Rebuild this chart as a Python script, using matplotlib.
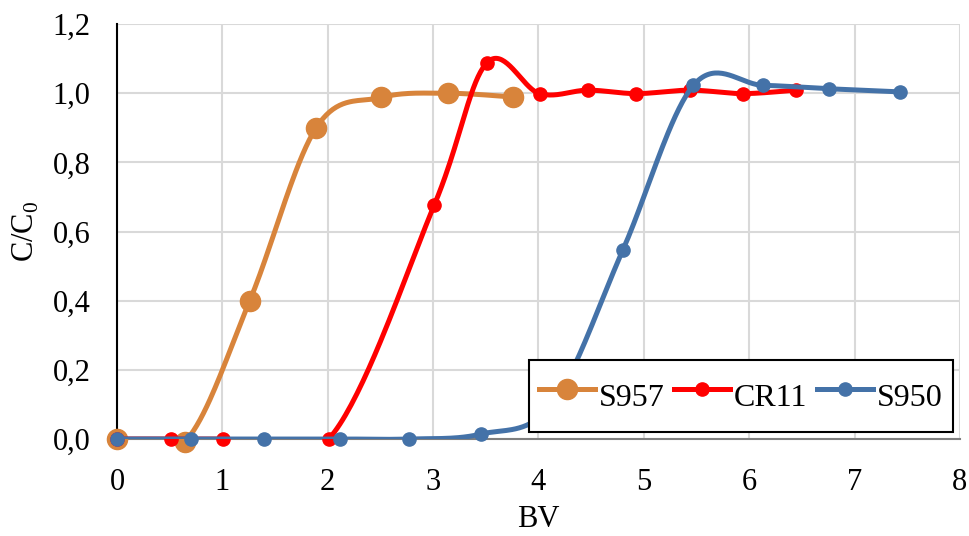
import numpy as np
import matplotlib
matplotlib.use("Agg")
import matplotlib.pyplot as plt
from matplotlib.lines import Line2D

# ---- data ----
s957_x = [0.0, 0.645, 1.26, 1.89, 2.51, 3.14, 3.76]
s957_y = [0.0, -0.008, 0.40, 0.90, 0.988, 1.0, 0.989]

cr11_x = [0.0, 0.51, 1.01, 2.01, 3.01, 3.51, 4.01, 4.47, 4.93, 5.44, 5.94, 6.44]
cr11_y = [0.0, 0.0, 0.0, 0.0, 0.676, 1.088, 0.999, 1.009, 0.999, 1.009, 0.999, 1.009]

s950_x = [0.0, 0.70, 1.40, 2.12, 2.77, 3.45, 4.13, 4.80, 5.47, 6.13, 6.76, 7.43]
s950_y = [0.0, 0.0, 0.0, 0.0, 0.0, 0.014, 0.10, 0.546, 1.023, 1.023, 1.013, 1.004]

series_names = ["S957", "CR11", "S950"]
colors = ["#D8843B", "#FF0000", "#4472A8"]

xticks = [0, 1, 2, 3, 4, 5, 6, 7, 8]
yticks = [0.0, 0.2, 0.4, 0.6, 0.8, 1.0, 1.2]


def smooth(xs, ys, n=40):
    """Excel-style smoothed line (Bezier with Catmull-Rom control points)."""
    P = np.column_stack([xs, ys]).astype(float)
    pts = []
    m = len(P)
    for i in range(m - 1):
        p0 = P[i - 1] if i > 0 else P[i]
        p1 = P[i]
        p2 = P[i + 1]
        p3 = P[i + 2] if i + 2 < m else P[i + 1]
        c1 = p1 + (p2 - p0) / 6.0
        c2 = p2 - (p3 - p1) / 6.0
        t = np.linspace(0, 1, n)[:, None]
        seg = ((1 - t) ** 3) * p1 + 3 * ((1 - t) ** 2) * t * c1 + 3 * (1 - t) * t ** 2 * c2 + t ** 3 * p2
        pts.append(seg if i == 0 else seg[1:])
    S = np.vstack(pts)
    return S[:, 0], S[:, 1]


plt.rcParams["font.family"] = ["Liberation Serif", "DejaVu Serif"]
plt.rcParams["mathtext.fontset"] = "custom"
plt.rcParams["mathtext.rm"] = "Liberation Serif"

fig = plt.figure(figsize=(9.69, 5.36), dpi=100)
ax = fig.add_axes([0.1207, 0.181, 0.8700, 0.774])

data = [(s957_x, s957_y), (cr11_x, cr11_y), (s950_x, s950_y)]
msizes = [14.5, 9.5, 9.5]
lw = 3.6
handles = []
for k, ((xs, ys), name, c, ms) in enumerate(zip(data, series_names, colors, msizes)):
    sx, sy = smooth(xs, ys)
    ax.plot(sx, sy, color=c, lw=lw, zorder=3 + k, solid_capstyle="round")
    ax.plot(xs, ys, ls="none", marker="o", ms=ms, color=c, mec=c, zorder=3 + k, clip_on=False)
    handles.append(Line2D([0], [0], color=c, lw=lw, marker="o", ms=ms, mec=c))

ax.set_xlim(0, 8)
ax.set_ylim(0, 1.2)
ax.set_xticks(xticks)
ax.set_yticks(yticks)
ax.set_yticklabels([f"{v:.1f}".replace(".", ",") for v in yticks])
ax.set_xticklabels([str(v) for v in xticks])
ax.tick_params(axis="both", length=0, labelsize=22)
ax.tick_params(axis="x", pad=21)
ax.tick_params(axis="y", pad=19)
ax.grid(True, color="#D9D9D9", lw=1.5, zorder=0)
ax.set_axisbelow(True)
for s in ["top", "right"]:
    ax.spines[s].set_visible(False)
ax.spines["left"].set_color("black")
ax.spines["left"].set_linewidth(1.5)
ax.spines["bottom"].set_color("#7F7F7F")
ax.spines["bottom"].set_linewidth(1.5)

ax.set_xlabel("BV", fontsize=22, labelpad=6)
ax.set_ylabel(r"C/C$_\mathregular{0}$", fontsize=22, labelpad=8)

leg = ax.legend(handles, series_names, ncol=3, loc="lower right",
                bbox_to_anchor=(0.9917, 0.017), fontsize=23, frameon=True,
                fancybox=False, edgecolor="black", framealpha=1.0,
                handlelength=1.75, handleheight=2.05,
                handletextpad=0.12, columnspacing=0.3, borderpad=0.33,
                borderaxespad=0)
leg.get_frame().set_linewidth(1.5)
leg.set_zorder(10)

fig.savefig("out.png", dpi=100)
